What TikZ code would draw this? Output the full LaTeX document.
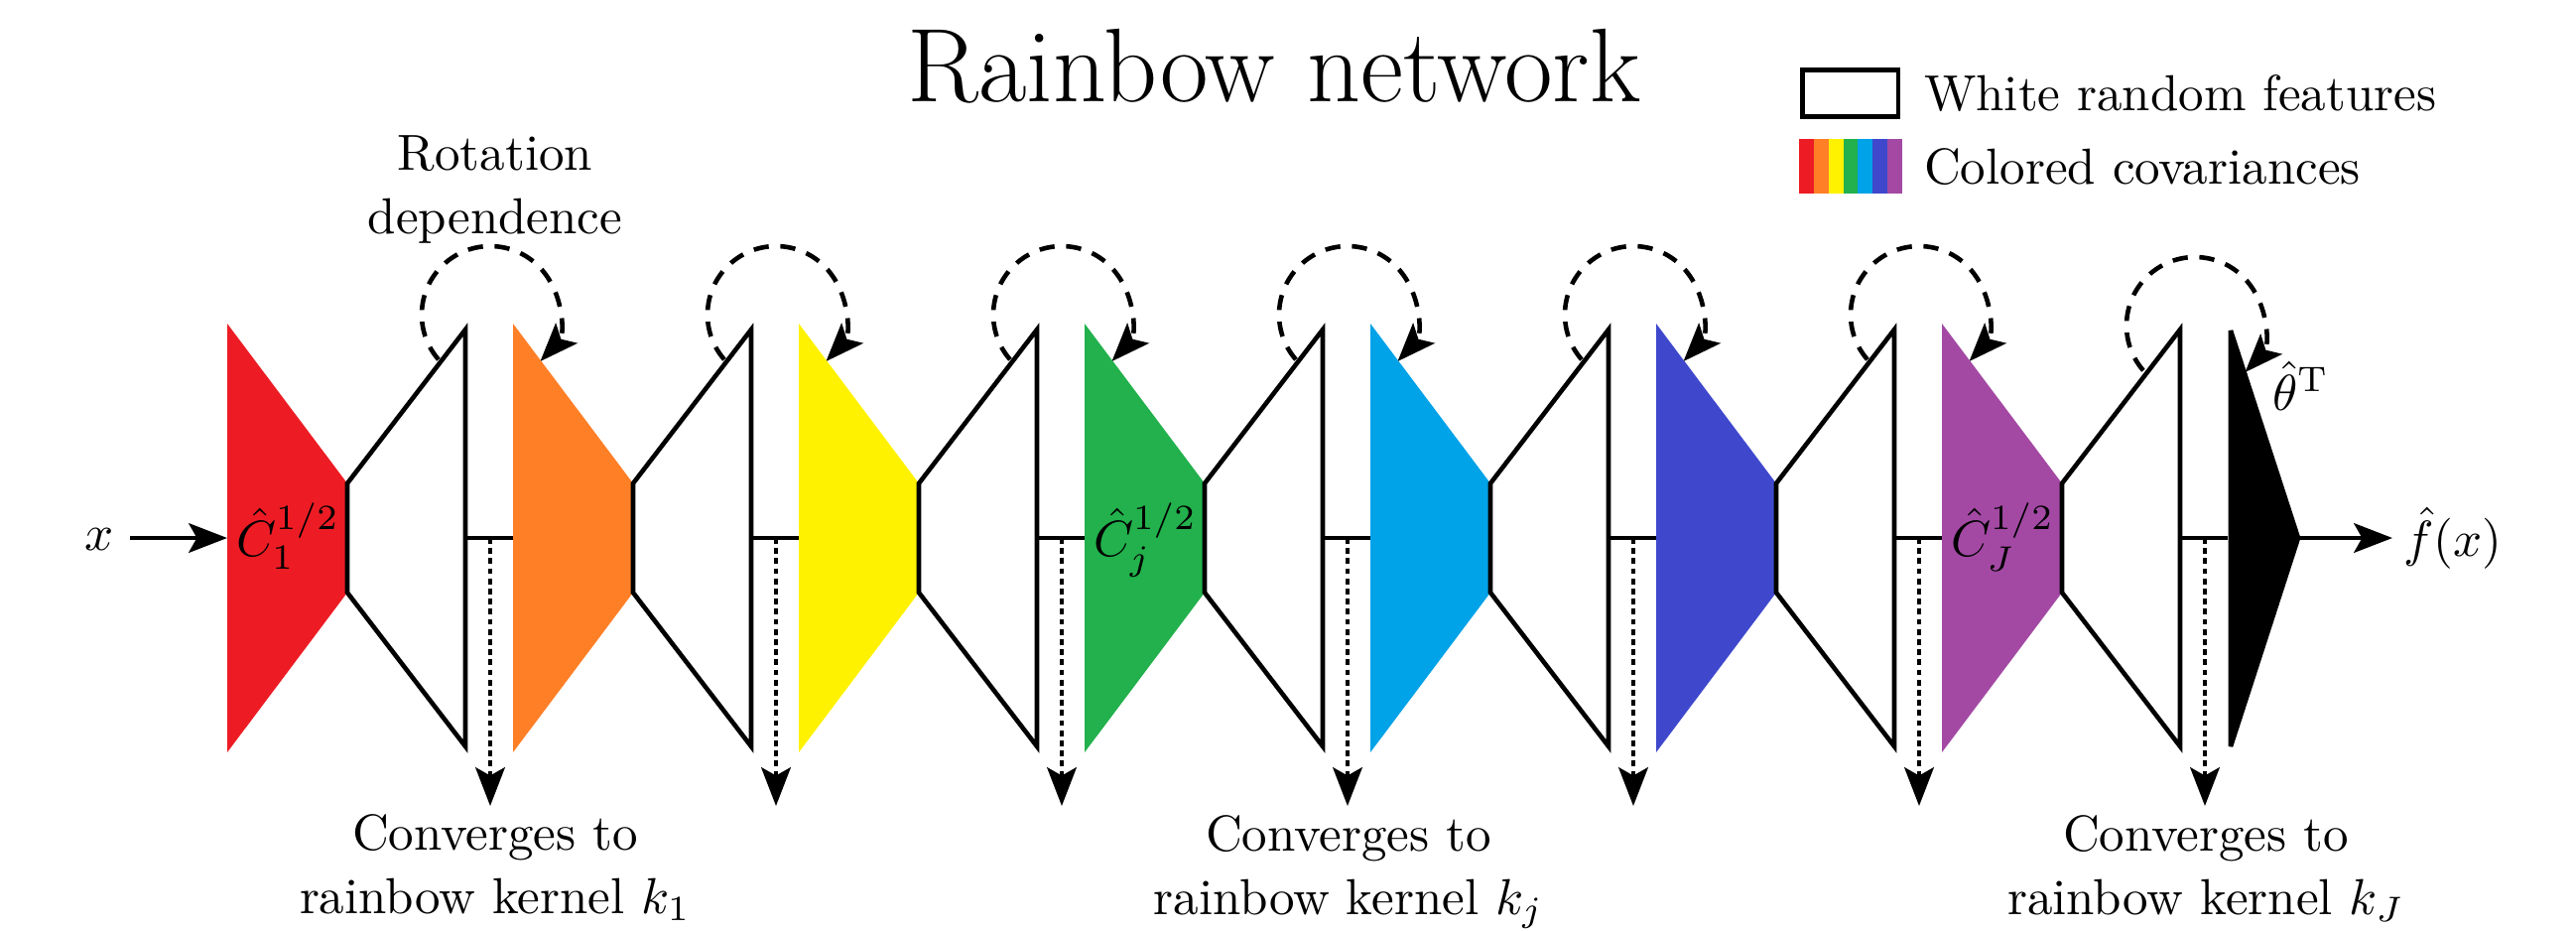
\documentclass[tikz,border=0pt]{standalone}
\usetikzlibrary{arrows.meta,calc}
\definecolor{rbA}{RGB}{237,28,36}
\definecolor{rbB}{RGB}{255,127,39}
\definecolor{rbC}{RGB}{255,242,0}
\definecolor{rbD}{RGB}{34,177,76}
\definecolor{rbE}{RGB}{0,162,232}
\definecolor{rbF}{RGB}{63,72,204}
\definecolor{rbG}{RGB}{163,73,164}
\begin{document}
\begin{tikzpicture}[x=0.19608pt,y=0.19608pt,
  outl/.style={line width=0.9pt, line join=miter},
  arr/.style={line width=0.9pt, -{Stealth[length=7.6pt,width=5.8pt,inset=1.6pt]}},
  loopdash/.style={arr, dash pattern=on 3pt off 2.3pt},
  dotline/.style={arr, dash pattern=on 1.15pt off 0.85pt},
  lbl/.style={inner sep=0pt, font=\fontsize{10}{12.4}\selectfont, align=center},
  mlbl/.style={inner sep=0pt, anchor=base west}]
\useasboundingbox (0,0) rectangle (2596,-937);

% title
\node[anchor=base, inner sep=0pt, font=\fontsize{20.7}{24}\selectfont] (title) at (1284,-102) {Rainbow network};

% legend
\coordinate (lg1) at (1816.5,-70.5);
\coordinate (lg2) at (1913,-117.5);
\draw[outl] (lg1) rectangle (lg2);
\foreach \c [count=\n from 0] in {rbA,rbB,rbC,rbD,rbE,rbF,rbG}
  \fill[\c] (1813+14.857*\n,-140) rectangle (1813+14.857*\n+14.857,-195);
\node[mlbl] (lgw) at (1938,-111.7) {White random features};
\node[mlbl] (lgc) at (1938,-185) {Colored covariances};

% units
\foreach \i/\col/\ox/\oy in {0/rbA/265/317,1/rbB/265/317,2/rbC/265/317,3/rbD/265/317,4/rbE/265/317,5/rbF/265/317,6/rbG/255/328}{
  \pgfmathsetmacro{\xo}{229+288*\i}
  \coordinate (a\i) at (\xo,-326);
  \coordinate (b\i) at (\xo,-758);
  \coordinate (c\i) at (\xo+121,-597);
  \coordinate (d\i) at (\xo+121,-487);
  \coordinate (e\i) at (\xo+240,-332);
  \coordinate (f\i) at (\xo+240,-752);
  \coordinate (g\i) at (\xo+240,-542);
  \coordinate (h\i) at (\xo+288,-542);
  \coordinate (m\i) at (\xo+265,-542);
  \coordinate (t\i) at (\xo+265,-812);
  \coordinate (o\i) at (\xo+\ox,-\oy);
  \fill[\col] (a\i) -- (d\i) -- (c\i) -- (b\i) -- cycle;
  \draw[outl] (d\i) -- (e\i) -- (f\i) -- (c\i) -- cycle;
  \draw[outl] (g\i) -- (h\i);
  \draw[dotline] (m\i) -- (t\i);
  \draw[loopdash] ([shift={(221:69)}]o\i) arc[start angle=221,end angle=-43,radius=69];
}

% output layer
\coordinate (k1) at (2248,-333);
\coordinate (k2) at (2248,-752);
\coordinate (k3) at (2316,-542);
\filldraw[line width=0.9pt, line join=bevel] (k1) -- (k3) -- (k2) -- cycle;

% input / output
\coordinate (in) at (229,-542);
\node[anchor=base east, inner ysep=0pt, inner xsep=3pt] (xin) at (131,-554) {$x$};
\draw[arr] (xin.east |- in) -- (in);
\node[anchor=west, inner ysep=0pt, inner xsep=2pt] (fout) at (2411,-542) {$\hat f(x)$};
\draw[arr] (k3) -- (k3 -| fout.west);

% math labels
\node[mlbl] (c1lab) at (237,-560) {$\hat C_1^{1/2}$};
\node[mlbl] (cjlab) at (1101,-560) {$\hat C_j^{1/2}$};
\node[mlbl] (cJlab) at (1965,-560) {$\hat C_J^{1/2}$};
\node[mlbl] (thlab) at (2289,-413) {$\hat\theta^{\mathrm T}$};

% text labels (anchor = baseline of the last line)
\node[lbl, anchor=base] (rot) at (499,-235) {Rotation\\dependence};
\node[lbl, anchor=base] (conv1) at (499,-920) {Converges to\\rainbow kernel $k_1$};
\node[lbl, anchor=base] (convj) at (1359,-921) {Converges to\\rainbow kernel $k_j$};
\node[lbl, anchor=base] (convJ) at (2223,-921) {Converges to\\rainbow kernel $k_J$};
\end{tikzpicture}
\end{document}
